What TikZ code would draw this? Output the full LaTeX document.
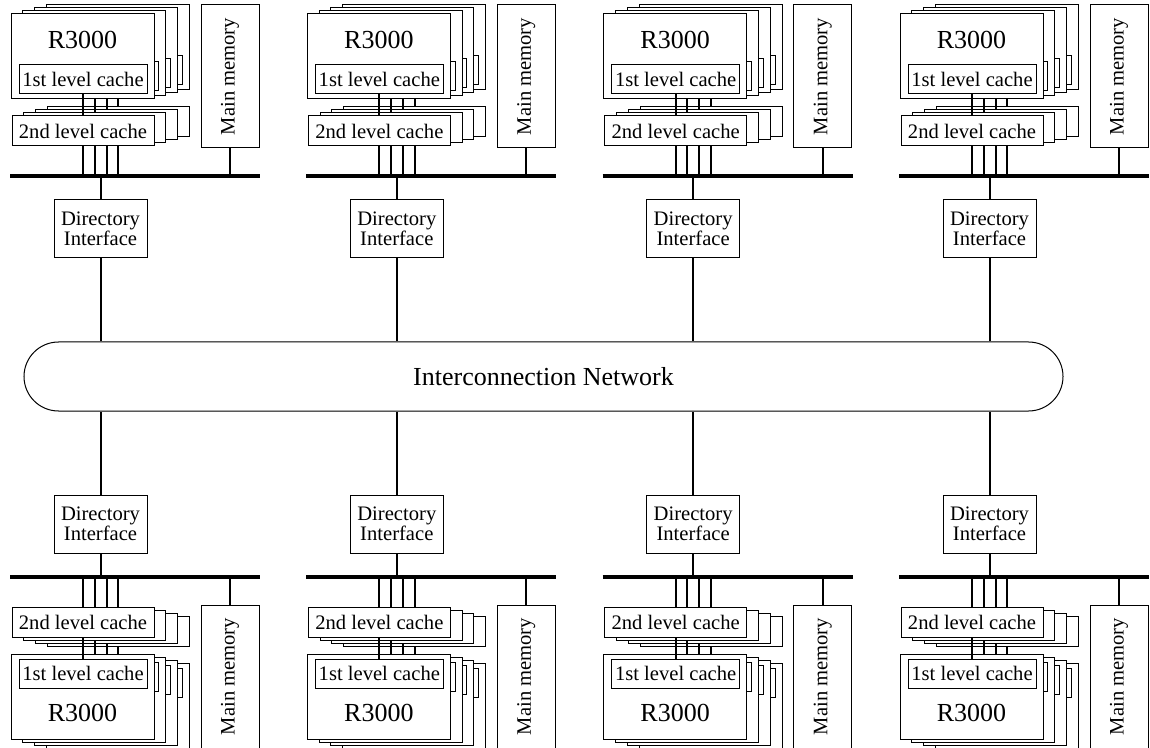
\documentclass[tikz,border=0pt]{standalone}
\usepackage{fontspec}
\setmainfont{Liberation Serif}

% Un nodo: bus, processori con cache, memoria, interfaccia
\newcommand{\cluster}[2]{%
  \coordinate (#1busw#2) at (10,176);
  \coordinate (#1buse#2) at (260,176);
  \draw[bus] (#1busw#2) -- (#1buse#2);
  % Processori (dal fondo in avanti)
  \foreach \k in {3,2,1,0}{
    \begin{scope}[shift={(11.8*\k,-3*\k)}]
      \node[cpu] (#1cpu#2\k) at (82.5,56.5) {};
      \node[lone] (#1lone#2\k) at (83,79.5) {\ifnum\k=0 1st level cache\fi};
      \node[ltwo] (#1ltwo#2\k) at (83,131) {\ifnum\k=0 2nd level cache\fi};
      \draw[wire] (#1lone#2\k) -- (#1ltwo#2\k);
      \draw[wire] (#1ltwo#2\k) -- (#1ltwo#2\k |- #1busw#2);
    \end{scope}
  }
  \node[grande] (#1lab#2) at (82.5,40) {R3000};
  % Memoria
  \node[mem] (#1mem#2) at (230,76.5) {Main memory};
  \draw[wire] (#1mem#2) -- (#1mem#2 |- #1busw#2);
  % Interfaccia
  \node[dir] (#1dir#2) at (100.5,229) {Directory\\Interface};
  \draw[wire] (#1dir#2) -- (#1dir#2 |- #1busw#2);
}

\begin{document}
\begin{tikzpicture}[x=0.5pt, y=-0.5pt,
    box/.style={draw, fill=white, line width=0.5pt, inner sep=0pt},
    piccolo/.style={font=\fontsize{10.3}{9.8}\selectfont},
    grande/.style={font=\fontsize{13}{14}\selectfont},
    cpu/.style={box, minimum width=71.5pt, minimum height=42.5pt},
    lone/.style={box, piccolo, minimum width=64pt, minimum height=14.5pt},
    ltwo/.style={box, piccolo, minimum width=71pt, minimum height=15pt},
    mem/.style={box, piccolo, rotate=90, minimum width=71.5pt, minimum height=29pt},
    dir/.style={box, piccolo, align=center, minimum width=46.5pt, minimum height=29pt},
    wire/.style={line width=1pt},
    bus/.style={line width=1.6pt}]

    \useasboundingbox (0,0) rectangle (1150,748);

    % Rete di interconnessione
    \node[box, grande, rounded corners=17.25pt, minimum width=519.5pt,
          minimum height=34.5pt] (net) at (543.5,376.5) {Interconnection Network};

    % Nodi sopra e sotto (specchiati)
    \foreach \c in {0,...,3}{
        \begin{scope}[shift={(296.33*\c,0)}]
            \cluster{t}{\c}
        \end{scope}
        \begin{scope}[shift={(296.33*\c,753)}, yscale=-1]
            \cluster{b}{\c}
        \end{scope}
        \draw[wire] (tdir\c) -- (tdir\c |- net.north);
        \draw[wire] (bdir\c) -- (bdir\c |- net.south);
    }

\end{tikzpicture}
\end{document}
